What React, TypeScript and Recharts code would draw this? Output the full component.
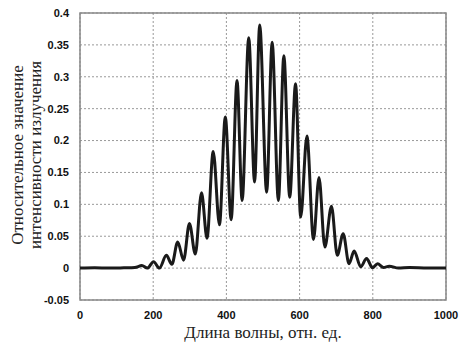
import { LineChart, Line, XAxis, YAxis, CartesianGrid, ReferenceArea } from "recharts";

const wavelength = [
  0, 40, 80, 120, 150, 169, 184, 201, 217, 236, 251, 267, 283, 299, 315, 332, 347, 364, 381, 397,
  413, 429, 443, 461, 477, 491, 510, 525, 542, 557, 573, 589, 603, 620, 638, 653, 669, 687, 703,
  719, 735, 749, 767, 783, 799, 813, 829, 845, 870, 900, 950, 1000,
];
const intensity = [
  0, 0.0005, 0, 0.0005, 0.001, 0.004, 0, 0.01, 0, 0.02, 0.006, 0.041, 0.0125, 0.07, 0.022, 0.118,
  0.047, 0.183, 0.068, 0.237, 0.076, 0.294, 0.106, 0.361, 0.135, 0.381, 0.119, 0.354, 0.106,
  0.333, 0.111, 0.289, 0.08, 0.207, 0.045, 0.142, 0.033, 0.097, 0.02, 0.054, 0.007, 0.027, 0.002,
  0.015, 0.0005, 0.007, 0.001, 0.003, 0, 0.001, 0, 0,
];

const xTicks = [0, 200, 400, 600, 800, 1000];
const yTicks = [-0.05, 0, 0.05, 0.1, 0.15, 0.2, 0.25, 0.3, 0.35, 0.4];
const yTickLabels = ["-0.05", "0", "0.05", "0.1", "0.15", "0.2", "0.25", "0.3", "0.35", "0.4"];

const xTitle = "Длина волны, отн. ед.";
const yTitle = ["Относительное значение", "интенсивности излучения"];

const data = wavelength.map((x, i) => ({ x, y: intensity[i] }));

const tickStyle = { fontFamily: "Liberation Sans, Arial, sans-serif", fontSize: 11, fontWeight: "bold", fill: "#111" };

function YTitle() {
  return (
    <text
      transform="translate(27,155) rotate(-90)"
      textAnchor="middle"
      fontFamily="Liberation Serif, Times New Roman, serif"
      fontSize={17}
      fill="#222"
    >
      <tspan x={0} dy={-4}>{yTitle[0]}</tspan>
      <tspan x={0} dy={18}>{yTitle[1]}</tspan>
    </text>
  );
}

export default function App() {
  return (
    <div style={{ position: "absolute", left: 0, top: 0, background: "#fff" }}>
      <LineChart width={459} height={344} data={data} margin={{ top: 13, right: 13, bottom: 0, left: 0 }}>
        <CartesianGrid stroke="#999" strokeDasharray="2 2" />
        <XAxis
          dataKey="x"
          type="number"
          domain={[0, 1000]}
          ticks={xTicks}
          height={44}
          tick={tickStyle}
          tickLine={false}
          axisLine={false}
          tickMargin={5}
          label={{
            value: xTitle,
            position: "insideBottom",
            offset: 6,
            style: { fontFamily: "Liberation Serif, Times New Roman, serif", fontSize: 17, fill: "#222" },
          }}
        />
        <YAxis
          type="number"
          domain={[-0.05, 0.4]}
          ticks={yTicks}
          width={80}
          tick={tickStyle}
          tickFormatter={(v: number) => yTickLabels[yTicks.indexOf(v)] ?? String(v)}
          tickLine={false}
          axisLine={false}
          tickMargin={5}
          allowDataOverflow
          label={{ content: () => <YTitle /> }}
        />
        <ReferenceArea x1={0} x2={1000} y1={-0.05} y2={0.4} fill="none" stroke="#888" strokeWidth={1.5} ifOverflow="visible" />
        <Line
          dataKey="y"
          type="monotone"
          stroke="#1a1a1a"
          strokeWidth={3}
          dot={false}
          isAnimationActive={false}
        />
      </LineChart>
    </div>
  );
}
